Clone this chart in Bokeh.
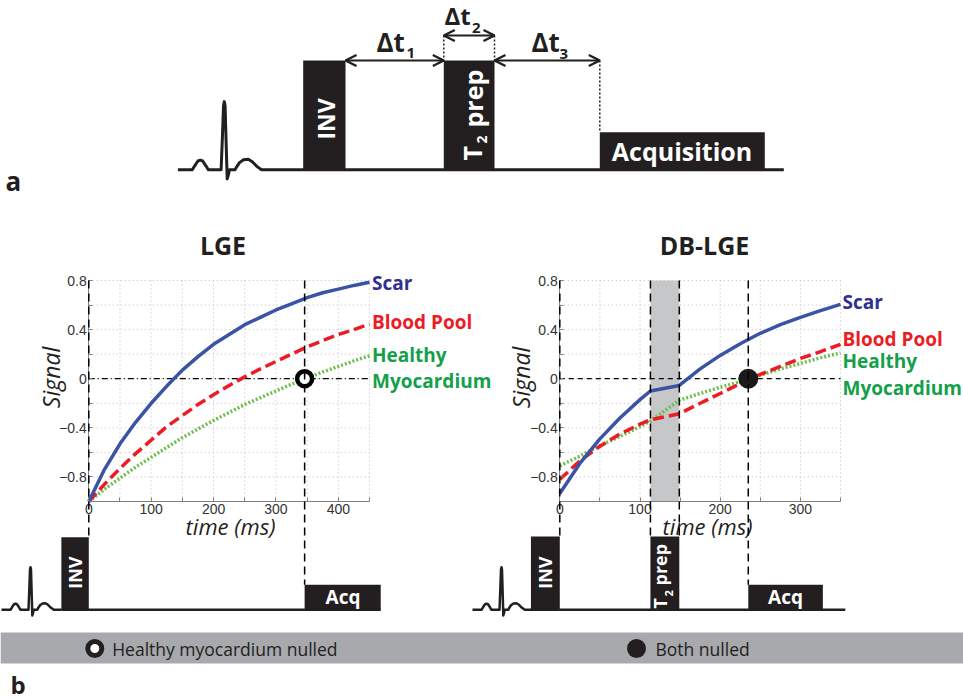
from math import pi
from bokeh.plotting import figure
from bokeh.models import Range1d, LinearAxis, FixedTicker, Arrow, OpenHead
from bokeh.core.properties import value
from bokeh.embed import file_html
from bokeh.resources import INLINE

# ---------------- data ----------------
lge_time = [0, 25, 50, 75, 100, 125, 150, 175, 200, 225, 250, 275, 300, 325, 350, 375, 400, 425, 450]
lge_scar = [-1.00, -0.74, -0.53, -0.355, -0.20, -0.06, 0.07, 0.18, 0.28, 0.36, 0.44, 0.50, 0.56, 0.61, 0.66, 0.70, 0.73, 0.76, 0.785]
lge_blood = [-1.00, -0.86, -0.73, -0.61, -0.50, -0.39, -0.30, -0.21, -0.13, -0.055, 0.015, 0.08, 0.14, 0.20, 0.26, 0.31, 0.36, 0.40, 0.445]
lge_healthy = [-1.00, -0.90, -0.81, -0.72, -0.64, -0.56, -0.48, -0.41, -0.34, -0.275, -0.21, -0.155, -0.10, -0.045, 0.005, 0.055, 0.10, 0.145, 0.187]
lge_null = 346

db_time = [0, 25, 50, 75, 100, 113, 149, 175, 200, 225, 235, 250, 275, 300, 325, 350]
db_scar = [-0.935, -0.69, -0.49, -0.32, -0.17, -0.10, -0.055, 0.08, 0.19, 0.285, 0.32, 0.37, 0.44, 0.50, 0.555, 0.605]
db_blood = [-0.82, -0.67, -0.55, -0.45, -0.37, -0.335, -0.285, -0.20, -0.12, -0.04, 0.0, 0.035, 0.10, 0.165, 0.22, 0.28]
db_healthy = [-0.71, -0.63, -0.545, -0.47, -0.39, -0.345, -0.175, -0.12, -0.07, -0.025, 0.0, 0.03, 0.08, 0.125, 0.17, 0.21]
db_t2prep = [113, 149]
db_null = 235

lge_x_ticks = [0, 100, 200, 300, 400]
lge_x_minor = [50, 150, 250, 350, 450]
db_x_ticks = [0, 100, 200, 300]
db_x_minor = [50, 150, 250, 350]
sig_ticks = [-0.8, -0.4, 0, 0.4, 0.8]
sig_minor = [-1.0, -0.6, -0.2, 0.2, 0.6]
sig_labels = ["\u22120.8", "\u22120.4", "0", "0.4", "0.8"]
sig_grid = [-0.8, -0.6, -0.4, -0.2, 0.0, 0.2, 0.4, 0.6, 0.8]

# pulse-sequence timing below the plots (ms)
lge_inv = [-44, 0]
lge_acq = [346, 468]
lge_line_end = 468
db_inv = [-36, 0]
db_acq = [235, 328]
db_line_end = 356

# ECG shape (px offsets from QRS peak / baseline)
ecg_dx = [-29, -20, -18.5, -16.5, -15, -13.5, -11.5, -10, -2, -1.2, -0.5, 0, 0.5, 1.2, 1.8, 2.6, 3.2, 6.7, 7.5, 9.5, 12, 15, 17.5, 20.5, 23.3]
ecg_dy = [0, 0, 2.5, 5.5, 6, 5.5, 2.5, 0, 0, 20, 40, 42.6, 40, 15, -5.7, -3, 0, 0, 1.5, 4.5, 6.3, 6.6, 5, 2, 0]

# ---------------- layout constants (page pixels) ----------------
W, H = 963, 700
PX0, PX1, PY0, PY1 = 0, 963, 0, 700
PLOT_TOP, PLOT_BOT = 280.0, 501.0      # y = 0.8 and y = -1
LGE_L, LGE_R = 88.3, 369.0             # t = 0 and t = 450
DB_L, DB_R = 559.3, 840.0              # t = 0 and t = 350

BLACK = "#231f20"
BLUE = "#3a53a4"
BLUE_T = "#2e3192"
RED = "#ed1c24"
GREEN = "#6dbf4b"
GREEN_T = "#13a04a"
FONT = value("Open Sans")


def x_range(pl, pr, tmax):
    k = (pr - pl) / tmax
    return Range1d((PX0 - pl) / k, (PX1 - pl) / k)


ks = (PLOT_BOT - PLOT_TOP) / 1.8
sig_range = Range1d(-1 - (PY1 - PLOT_BOT) / ks, 0.8 + (PLOT_TOP - PY0) / ks)

p = figure(width=W, height=H, x_range=Range1d(PX0, PX1), y_range=Range1d(PY1, PY0),
           x_axis_type=None, y_axis_type=None, toolbar_location=None,
           output_backend="svg", min_border=0, outline_line_color=None)
p.extra_x_ranges = {"lge": x_range(LGE_L, LGE_R, 450), "db": x_range(DB_L, DB_R, 350)}
p.extra_y_ranges = {"sig": sig_range}


def txt(x, y, t, size, color=BLACK, style="bold", align="left", angle=0.0):
    p.text(x=[x], y=[y], text=[t], text_font=FONT, text_font_size=f"{size}px",
           text_font_style=style, text_color=color, text_align=align,
           text_baseline="middle", angle=angle)


def ecg(qx, base, sx, sy, end_x, lw):
    xs = [qx + sx * d for d in ecg_dx] + [end_x]
    ys = [base - sy * d for d in ecg_dy] + [base]
    p.line(xs, ys, line_color=BLACK, line_width=lw, line_join="round")


# ---------------- panel a ----------------
ecg(223.8, 169.3, 1.6, 1.6, 783.3, 3)
p.quad(left=[302.7, 443.3, 599.3], right=[345.0, 494.0, 764.3],
       top=[60, 60, 131.7], bottom=[169.3, 169.3, 169.3], fill_color=BLACK, line_color=None)
p.segment(x0=[443.3, 494.0, 599.3], y0=[35, 35, 60], x1=[443.3, 494.0, 599.3], y1=[60, 60, 131.7],
          line_color=BLACK, line_width=1.5, line_dash="2 2")
for xs, xe, yy in [(345.0, 443.3, 60), (443.3, 494.0, 35), (494.0, 599.3, 60)]:
    p.add_layout(Arrow(start=OpenHead(size=11, line_width=2.4, line_color=BLACK),
                       end=OpenHead(size=11, line_width=2.4, line_color=BLACK),
                       x_start=xs, y_start=yy, x_end=xe, y_end=yy,
                       line_width=2, line_color=BLACK))
txt(376, 41, "\u0394t", 26)
txt(406, 52, "1", 15)
txt(444, 15, "\u0394t", 24)
txt(471.5, 27.5, "2", 15)
txt(531, 41, "\u0394t", 26)
txt(559, 53.5, "3", 15)
txt(325.8, 139, "INV", 23, color="white", angle=pi / 2)
txt(471.5, 160, "T", 25, color="white", angle=pi / 2)
txt(481, 143, "2", 14, color="white", angle=pi / 2)
txt(472, 127, "prep", 25, color="white", angle=pi / 2)
txt(681.5, 150.5, "Acquisition", 25, color="white", align="center")
txt(5, 180, "a", 26)

# ---------------- panel b plots ----------------
for name, tmax, xt, xm in [("lge", 450, lge_x_ticks, lge_x_minor), ("db", 350, db_x_ticks, db_x_minor)]:
    gx = [v for v in xt + xm if v > 0]
    p.segment(x0=gx, y0=[-1] * len(gx), x1=gx, y1=[0.8] * len(gx), x_range_name=name,
              y_range_name="sig", line_color="#bdbdbd", line_width=1, line_dash="1 3")
    p.segment(x0=[0] * len(sig_grid), y0=sig_grid, x1=[tmax] * len(sig_grid), y1=sig_grid,
              x_range_name=name, y_range_name="sig", line_color="#bdbdbd", line_width=1,
              line_dash="1 3")

p.quad(left=[db_t2prep[0]], right=[db_t2prep[1]], bottom=[-1], top=[0.8],
       x_range_name="db", y_range_name="sig", fill_color="#c6c7c9", line_color=None)

p.segment(x0=[0], y0=[0], x1=[450], y1=[0], x_range_name="lge", y_range_name="sig",
          line_color="black", line_width=1.3, line_dash="6 3 1 3")
p.segment(x0=[0], y0=[0], x1=[350], y1=[0], x_range_name="db", y_range_name="sig",
          line_color="black", line_width=1.3, line_dash="5 4")

# pulse diagrams under the plots
p.quad(left=[lge_inv[0], lge_acq[0]], right=[lge_inv[1], lge_acq[1]], top=[536.7, 584.3],
       bottom=[609.3, 609.3], x_range_name="lge", fill_color=BLACK, line_color=None)
p.quad(left=[db_inv[0], db_t2prep[0], db_acq[0]], right=[db_inv[1], db_t2prep[1], db_acq[1]],
       top=[536.0, 536.0, 584.3], bottom=[609.3, 609.3, 609.3], x_range_name="db",
       fill_color=BLACK, line_color=None)
p.segment(x0=[lge_inv[0]], y0=[609.3], x1=[lge_line_end], y1=[609.3], x_range_name="lge",
          line_color=BLACK, line_width=2.5)
p.segment(x0=[db_inv[0]], y0=[609.3], x1=[db_line_end], y1=[609.3], x_range_name="db",
          line_color=BLACK, line_width=2.5)
ecg(30.0, 609.3, 1.0, 1.0, 61.0, 2.5)
ecg(501.0, 609.3, 1.0, 1.0, 531.0, 2.5)

vd = p.segment(x0=[0, lge_null], y0=[PLOT_TOP, PLOT_TOP], x1=[0, lge_null], y1=[536.7, 584.3],
               x_range_name="lge", line_color="black", line_width=1.5, line_dash="8 5")
vd.level = "overlay"
vd2 = p.segment(x0=[0, db_t2prep[0], db_t2prep[1], db_null], y0=[PLOT_TOP] * 4,
                x1=[0, db_t2prep[0], db_t2prep[1], db_null], y1=[536.0, 536.0, 536.0, 584.3],
                x_range_name="db", line_color="black", line_width=1.5, line_dash="8 5")
vd2.level = "overlay"

for name, time, scar, blood, healthy in [("lge", lge_time, lge_scar, lge_blood, lge_healthy),
                                         ("db", db_time, db_scar, db_blood, db_healthy)]:
    p.line(time, healthy, x_range_name=name, y_range_name="sig", line_color=GREEN,
           line_width=3.5, line_dash="2 2")
    p.line(time, blood, x_range_name=name, y_range_name="sig", line_color=RED,
           line_width=3.5, line_dash="11 5")
    p.line(time, scar, x_range_name=name, y_range_name="sig", line_color=BLUE,
           line_width=3.5, line_join="round")

p.scatter([lge_null], [0], x_range_name="lge", y_range_name="sig", size=15, line_width=4.5,
          fill_color="white", line_color="black")
p.scatter([db_null], [0], x_range_name="db", y_range_name="sig", size=20,
          fill_color="#1a1a1a", line_color=None)

# axes
for name, tmax, xt, xm in [("lge", 450, lge_x_ticks, lge_x_minor), ("db", 350, db_x_ticks, db_x_minor)]:
    common = dict(x_range_name=name, y_range_name="sig",
                  major_label_text_font="Liberation Sans", major_label_text_font_size="14px",
                  major_label_text_color="#333333", axis_line_color="#808080",
                  major_tick_line_color="#808080", minor_tick_line_color="#808080",
                  major_tick_in=4, major_tick_out=0, minor_tick_in=4, minor_tick_out=0,
                  major_label_standoff=2)
    xa = LinearAxis(fixed_location=-1.0, bounds=(0, tmax),
                    ticker=FixedTicker(ticks=xt, minor_ticks=xm), **common)
    p.add_layout(xa, "below")
    ya = LinearAxis(fixed_location=0, bounds=(-1, 0.8),
                    ticker=FixedTicker(ticks=sig_ticks, minor_ticks=sig_minor),
                    major_label_overrides=dict(zip(sig_ticks, sig_labels)), **common)
    p.add_layout(ya, "left")

# titles, axis labels, curve labels
txt(222.5, 244, "LGE", 25, align="center")
txt(704, 244, "DB-LGE", 25, align="center")
txt(230, 525, "time (ms)", 22, style="italic", align="center")
txt(707, 525, "time (ms)", 22, style="italic", align="center")
txt(50, 377, "Signal", 23, style="italic", align="center", angle=pi / 2)
txt(520, 377, "Signal", 23, style="italic", align="center", angle=pi / 2)

for x0, ys in [(371.5, (282, 321, 354, 380)), (842, (301, 338, 360, 387))]:
    txt(x0, ys[0], "Scar", 19, color=BLUE_T)
    txt(x0, ys[1], "Blood Pool", 19, color=RED)
    txt(x0, ys[2], "Healthy", 19, color=GREEN_T)
    txt(x0, ys[3], "Myocardium", 19, color=GREEN_T)

# block texts in the lower pulse diagrams
txt(74.2, 588.3, "INV", 18, color="white", angle=pi / 2)
txt(544.2, 588.3, "INV", 18, color="white", angle=pi / 2)
txt(659, 608, "T", 18, color="white", angle=pi / 2)
txt(668.5, 596, "2", 11, color="white", angle=pi / 2)
txt(659, 585, "prep", 18, color="white", angle=pi / 2)
txt(342.5, 596.3, "Acq", 19, color="white", align="center")
txt(785, 596.3, "Acq", 19, color="white", align="center")

# legend bar
p.quad(left=[PX0], right=[PX1], top=[632], bottom=[663], fill_color="#a7a9ac", line_color=None)
p.scatter([94.3], [648], size=14, line_width=5, fill_color="white", line_color=BLACK)
p.scatter([636], [648], size=19, fill_color=BLACK, line_color=None)
txt(111.7, 648, "Healthy myocardium nulled", 17.5, style="normal")
txt(655, 648, "Both nulled", 17.5, style="normal")
txt(10, 684, "b", 24)

open("out.html", "w").write(file_html(p, INLINE))
